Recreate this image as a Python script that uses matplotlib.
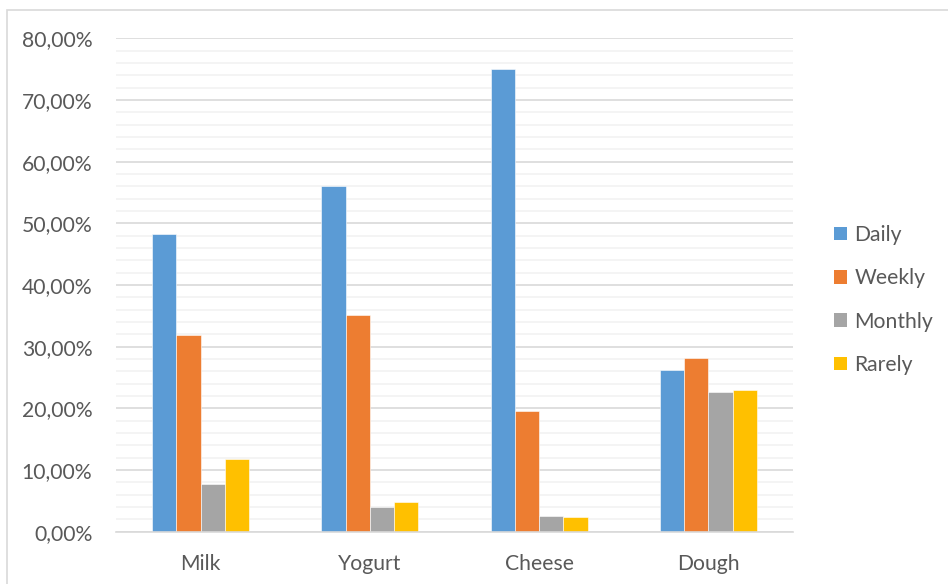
import matplotlib.pyplot as plt
import numpy as np
from matplotlib.patches import Rectangle, Patch
from matplotlib.ticker import MultipleLocator, FuncFormatter

plt.rcParams['font.family'] = ['Lato', 'DejaVu Sans']

# consumption frequency per product (%)
products = ["Milk", "Yogurt", "Cheese", "Dough"]
daily = [48.3, 56.0, 75.0, 26.2]
weekly = [31.9, 35.1, 19.6, 28.2]
monthly = [7.7, 4.0, 2.6, 22.6]
rarely = [11.8, 4.8, 2.4, 22.9]

series = [("Daily", daily, "#5B9BD5"),
          ("Weekly", weekly, "#ED7D31"),
          ("Monthly", monthly, "#A5A5A5"),
          ("Rarely", rarely, "#FFC000")]

text_col = "#595959"
fs = 15.2

fig = plt.figure(figsize=(9.48, 5.84), dpi=100)
fig.patches.append(Rectangle((7 / 948, -0.1), 1.2, 1 - 10 / 584 + 0.1,
                             transform=fig.transFigure, fill=False,
                             edgecolor="#d9d9d9", linewidth=1.2))
ax = fig.add_axes([116 / 948, 52.3 / 584, 677 / 948, 493.4 / 584])

x = np.arange(len(products))
w = 0.143
for i, (name, vals, col) in enumerate(series):
    ax.bar(x + (i - 1.5) * w, vals, w, color=col, label=name,
           edgecolor="white", linewidth=0.4, zorder=3)

ax.set_xlim(-0.5, len(products) - 0.5)
ax.set_ylim(0, 80)
ax.yaxis.set_major_locator(MultipleLocator(10))
ax.yaxis.set_minor_locator(MultipleLocator(2))
ax.yaxis.set_major_formatter(FuncFormatter(lambda v, p: f"{v:.2f}%".replace(".", ",")))
ax.grid(axis="y", which="major", color="#d9d9d9", linewidth=1.2, zorder=0)
ax.grid(axis="y", which="minor", color="#f2f2f2", linewidth=1.2, zorder=0)

ax.set_xticks(x)
ax.set_xticklabels(products)
for s in ["top", "right", "left"]:
    ax.spines[s].set_visible(False)
ax.spines["bottom"].set_color("#d9d9d9")
ax.spines["bottom"].set_linewidth(1.2)
ax.spines["bottom"].set_zorder(4)
ax.tick_params(axis="both", which="both", length=0, colors=text_col, labelsize=fs)
ax.tick_params(axis="x", pad=16)
ax.tick_params(axis="y", pad=17)

handles = [Patch(facecolor=c, label=n) for n, _, c in series]
fig.legend(handles=handles, loc="center left", bbox_to_anchor=(830 / 948, 1 - 300 / 584),
           frameon=False, fontsize=fs, labelcolor=text_col,
           handlelength=0.6, handleheight=0.6, handletextpad=0.35, labelspacing=1.1,
           borderpad=0.2, borderaxespad=0)

fig.savefig("out.png", dpi=100)
